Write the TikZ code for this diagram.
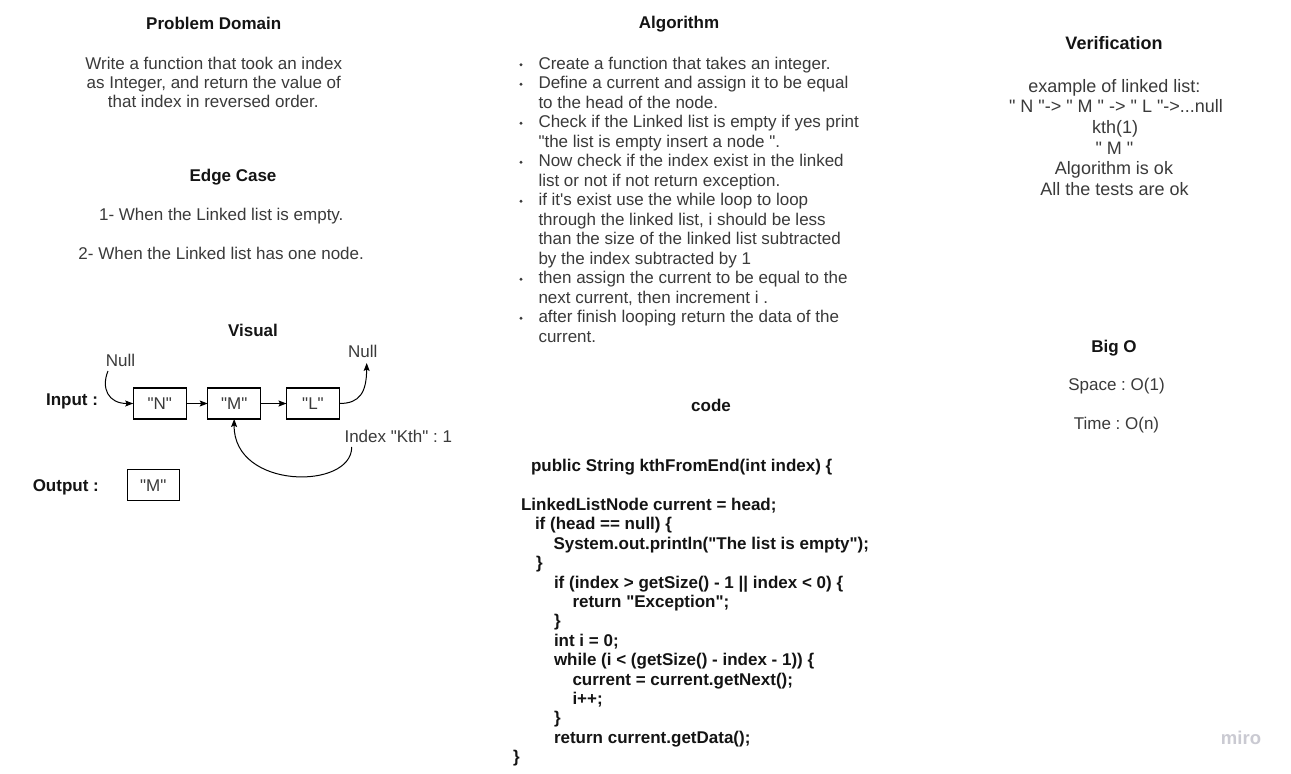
\documentclass[tikz,border=0pt]{standalone}
\usepackage{fontspec}
\setmainfont{Liberation Sans}[Ligatures=TeXOff]
\usetikzlibrary{arrows.meta}
\definecolor{txt}{HTML}{3A3A3A}
\definecolor{hd}{HTML}{141414}
\definecolor{mirogray}{HTML}{CACAD2}
\frenchspacing
\begin{document}
\begin{tikzpicture}[x=1pt,y=-1pt,
  every node/.style={inner sep=0pt, outer sep=0pt, font=\fontsize{17}{19.5}\selectfont, text=txt},
  hdr/.style={anchor=base, font=\fontsize{17}{19.5}\selectfont\bfseries, text=hd},
  ln/.style={anchor=base},
  big/.style={font=\fontsize{18}{20.5}\selectfont},
  lnw/.style={anchor=base west},
  codeln/.style={anchor=base west, font=\fontsize{17}{19.5}\selectfont\bfseries, text=hd},
  bul/.style={circle, fill=txt, minimum size=3.2pt, inner sep=0pt},
  box/.style={draw=black, line width=1.3pt, minimum width=53pt, minimum height=31pt},
  arr/.style={draw=black, line width=1pt, -{Stealth[length=8pt,width=6pt,inset=1.5pt]}}
]
\fill[white] (0,0) rectangle (1291,774);
\useasboundingbox (0,0) rectangle (1291,774);

% ---- Problem domain column
\node[hdr] (pdh) at (213.7,29.3) {Problem Domain};
\node[ln] (pd1) at (213.8,69.3) {Write a function that took an index};
\node[ln] (pd2) at (213.8,88.2) {as Integer, and return the value of};
\node[ln] (pd3) at (213.3,107.2) {that index in reversed order.};

\node[hdr] (ech) at (233,181.7) {Edge Case};
\node[ln] (ec1) at (221.3,220) {1- When the Linked list is empty.};
\node[ln] (ec2) at (221.2,259.3) {2- When the Linked list has one node.};

% ---- Visual
\node[hdr] (vish) at (253,336) {Visual};
\node[ln] (nullL) at (120.5,366) {Null};
\node[ln] (nullR) at (362.8,357.7) {Null};
\node[hdr] (inp) at (72,405) {Input :};
\node[hdr] (outp) at (65.8,491.7) {Output :};
\node[box] (N) at (159.7,403.5) {"N"};
\node[box] (M) at (234.2,403.5) {"M"};
\node[box] (L) at (313,403.5) {"L"};
\node[box, minimum width=52pt] (O) at (153.3,485.2) {"M"};
\node[ln] (idx) at (398.3,442.7) {Index "Kth" : 1};

\draw[arr] (108,371) .. controls (101,388) and (108,403.5) .. (N.west);
\draw[arr] (N.east) -- (M.west);
\draw[arr] (M.east) -- (L.west);
\draw[arr] (L.east) .. controls (360,403.5) and (366.5,392) .. (366.7,363);
\draw[arr] (351.7,447) .. controls (352,490) and (233.3,490) .. (M.south);

% ---- Algorithm
\node[hdr] (algh) at (679,28.7) {Algorithm};
\node[bul] (b1) at (521,64.8) {};
\node[bul] (b2) at (521,84.3) {};
\node[bul] (b3) at (521,123.3) {};
\node[bul] (b4) at (521,162.3) {};
\node[bul] (b5) at (521,201.3) {};
\node[bul] (b6) at (521,279.3) {};
\node[bul] (b7) at (521,318.3) {};
\node[lnw] (a1) at (538.5,69) {Create a function that takes an integer.};
\node[lnw] (a2) at (538.5,88.5) {Define a current and assign it to be equal};
\node[lnw] (a3) at (538.5,108) {to the head of the node.};
\node[lnw] (a4) at (538.5,127.5) {Check if the Linked list is empty if yes print};
\node[lnw] (a5) at (538.5,147) {"the list is empty insert a node ".};
\node[lnw] (a6) at (538.5,166.5) {Now check if the index exist in the linked};
\node[lnw] (a7) at (538.5,186) {list or not if not return exception.};
\node[lnw] (a8) at (538.5,205.5) {if it's exist use the while loop to loop};
\node[lnw] (a9) at (538.5,225) {through the linked list, i should be less};
\node[lnw] (a10) at (538.5,244.5) {than the size of the linked list subtracted};
\node[lnw] (a11) at (538.5,264) {by the index subtracted by 1};
\node[lnw] (a12) at (538.5,283.5) {then assign the current to be equal to the};
\node[lnw] (a13) at (538.5,303) {next current, then increment i .};
\node[lnw] (a14) at (538.5,322.5) {after finish looping return the data of the};
\node[lnw] (a15) at (538.5,342) {current.};

% ---- Code
\node[hdr] (codeh) at (711,411.7) {code};
\node[codeln] (c1) at (531,471.5) {public String kthFromEnd(int index) \{};
\node[codeln] (c2) at (521,510.5) {LinkedListNode current = head;};
\node[codeln] (c3) at (535,529.9) {if (head == null) \{};
\node[codeln] (c4) at (553.5,549.3) {System.out.println("The list is empty");};
\node[codeln] (c5) at (536,568.7) {\}};
\node[codeln] (c6) at (554,588.1) {if (index > getSize() - 1 || index < 0) \{};
\node[codeln] (c7) at (572.5,607.5) {return "Exception";};
\node[codeln] (c8) at (554,626.9) {\}};
\node[codeln] (c9) at (554,646.3) {int i = 0;};
\node[codeln] (c10) at (554,665.7) {while (i < (getSize() - index - 1)) \{};
\node[codeln] (c11) at (572.5,685.1) {current = current.getNext();};
\node[codeln] (c12) at (572.5,704.5) {i++;};
\node[codeln] (c13) at (554,723.9) {\}};
\node[codeln] (c14) at (554,743.3) {return current.getData();};
\node[codeln] (c15) at (513,762.7) {\}};

% ---- Verification
\node[hdr, big, font=\fontsize{18}{20.5}\selectfont\bfseries] (verh) at (1114,49.5) {Verification};
\node[ln, big] (v1) at (1114.3,92.9) {example of linked list:};
\node[ln, big] (v2) at (1116,112.9) {" N "-> " M " -> " L "->...null};
\node[ln, big] (v3) at (1115,133.5) {kth(1)};
\node[ln, big] (v4) at (1114.5,154.2) {" M "};
\node[ln, big] (v5) at (1114,174.2) {Algorithm is ok};
\node[ln, big] (v6) at (1114.5,195.2) {All the tests are ok};

% ---- Big O
\node[hdr] (bigo) at (1114,352) {Big O};
\node[ln] (sp) at (1116.5,390) {Space : O(1)};
\node[ln] (tm) at (1116.5,429) {Time : O(n)};

% ---- watermark
\node[anchor=base, font=\fontsize{18.5}{20}\selectfont\bfseries, text=mirogray] (miro) at (1241,744) {miro};
\end{tikzpicture}
\end{document}
